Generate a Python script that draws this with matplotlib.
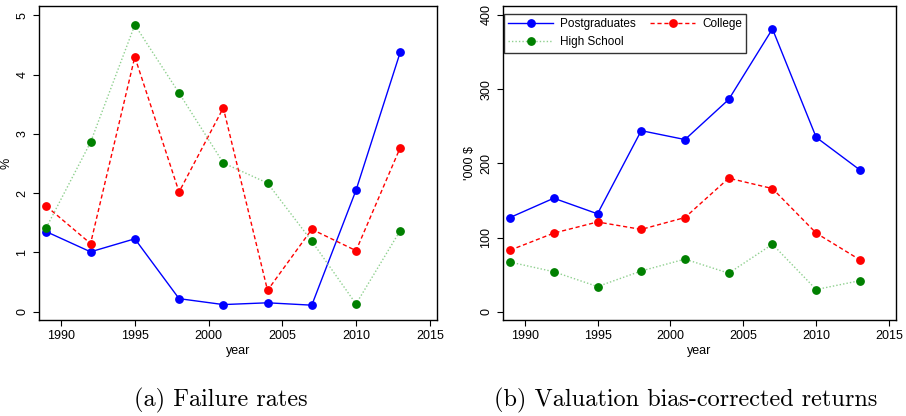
import numpy as np
import matplotlib.pyplot as plt

plt.rcParams['font.family'] = ['Liberation Sans', 'DejaVu Sans']

years = [1989, 1992, 1995, 1998, 2001, 2004, 2007, 2010, 2013]
series = ['Postgraduates', 'College', 'High School']

fail_post = [1.35, 1.01, 1.23, 0.22, 0.12, 0.15, 0.11, 2.05, 4.38]
fail_coll = [1.78, 1.15, 4.30, 2.02, 3.44, 0.36, 1.39, 1.03, 2.77]
fail_high = [1.42, 2.86, 4.84, 3.69, 2.51, 2.17, 1.19, 0.13, 1.37]

ret_post = [127, 153, 132, 244, 232, 286, 381, 235, 191]
ret_coll = [83, 106, 121, 111, 127, 180, 166, 106, 70]
ret_high = [67, 54, 34, 55, 71, 52, 91, 30, 42]

x_ticks = [1990, 1995, 2000, 2005, 2010, 2015]

styles = [
    dict(color='blue', ls='-', lw=1.0, mfc='blue', mec='blue'),
    dict(color='red', ls=(0, (3, 2)), lw=1.0, mfc='red', mec='red'),
    dict(color='#8fd08f', ls=(0, (1, 1.5)), lw=1.0, mfc='green', mec='green'),
]

fig = plt.figure(figsize=(9.06, 4.16), dpi=100)
axL = fig.add_axes([0.043, 0.2308, 0.439, 0.755])
axR = fig.add_axes([0.5549, 0.2308, 0.434, 0.755])

def draw(ax, data, yticks, ylim, ylabel):
    lines = []
    for name, vals, st in zip(series, data, styles):
        ln, = ax.plot(years, vals, marker='o', ms=5.3, label=name, **st)
        lines.append(ln)
    ax.set_xlim(1988.5, 2015.47)
    ax.set_ylim(*ylim)
    ax.set_xticks(x_ticks)
    ax.set_yticks(yticks)
    ax.set_yticklabels([str(t) for t in yticks], rotation=90, va='center')
    ax.tick_params(labelsize=9, length=4, width=0.8, direction='out')
    ax.set_xlabel('year', fontsize=9, labelpad=2)
    ax.set_ylabel(ylabel, fontsize=9, labelpad=3)
    for s in ax.spines.values():
        s.set_linewidth(1.0)
    return lines

draw(axL, [fail_post, fail_coll, fail_high], [0, 1, 2, 3, 4, 5], (-0.14, 5.16), '%')
lines = draw(axR, [ret_post, ret_coll, ret_high], [0, 100, 200, 300, 400], (-11, 412), "'000 $")

# column-first fill: Postgraduates, High School | College
order = [0, 2, 1]
leg = axR.legend([lines[i] for i in order], [series[i] for i in order],
                 loc='upper left', bbox_to_anchor=(0.004, 0.975), ncol=2, fontsize=8.5,
                 frameon=True, fancybox=False, edgecolor='black', borderaxespad=0,
                 handlelength=3.8, columnspacing=1.2, labelspacing=0.55, borderpad=0.35,
                 handletextpad=0.6)
leg.get_frame().set_linewidth(1.0)

fig.text(0.244, 0.022, '(a) Failure rates', fontname='cmr10', fontsize=17.5,
         ha='center', va='baseline')
fig.text(0.757, 0.022, '(b) Valuation bias-corrected returns', fontname='cmr10',
         fontsize=17.5, ha='center', va='baseline')

fig.savefig('out.png', dpi=100)
